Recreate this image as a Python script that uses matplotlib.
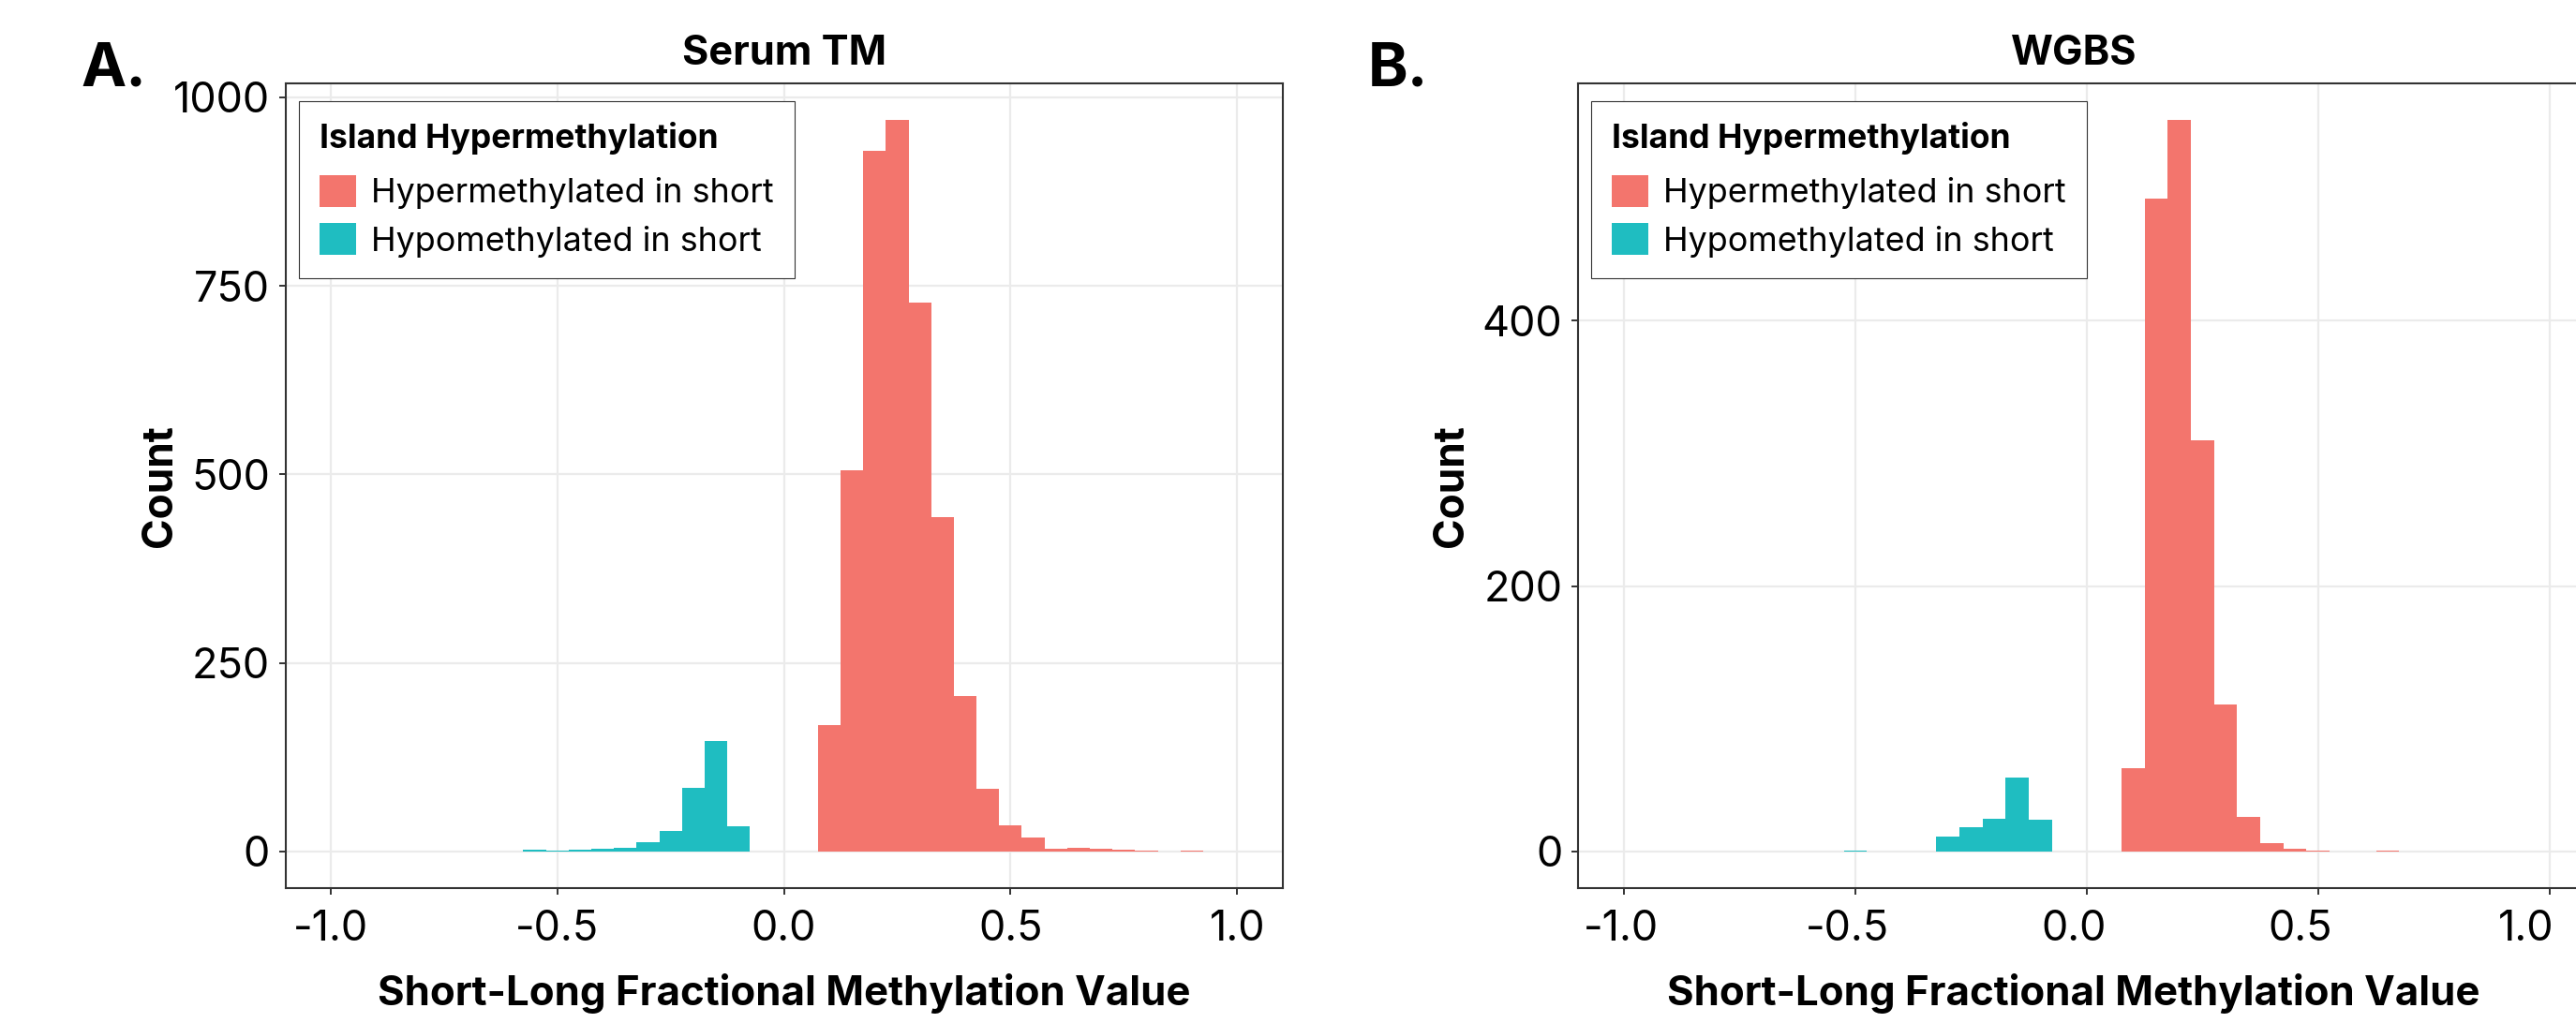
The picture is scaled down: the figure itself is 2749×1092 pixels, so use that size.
import matplotlib
matplotlib.use("Agg")
import matplotlib.pyplot as plt
from matplotlib.patches import Patch
from matplotlib.ticker import FormatStrFormatter

plt.rcParams['font.family'] = ['Inter', 'DejaVu Sans']
plt.rcParams['axes.unicode_minus'] = False

binwidth = 0.05

serum_hypo_x = [-0.55, -0.50, -0.45, -0.40, -0.35, -0.30, -0.25, -0.20, -0.15, -0.10]
serum_hypo_n = [2, 1, 2, 4, 5, 12, 27, 84, 146, 33]
serum_hyper_x = [0.10, 0.15, 0.20, 0.25, 0.30, 0.35, 0.40, 0.45, 0.50,
                 0.55, 0.60, 0.65, 0.70, 0.75, 0.80, 0.85, 0.90]
serum_hyper_n = [168, 506, 929, 970, 728, 443, 206, 83, 35,
                 19, 4, 5, 4, 2, 1, 0, 1]

wgbs_hypo_x = [-0.50, -0.30, -0.25, -0.20, -0.15, -0.10]
wgbs_hypo_n = [1, 11, 18, 25, 56, 24]
wgbs_hyper_x = [0.10, 0.15, 0.20, 0.25, 0.30, 0.35, 0.40, 0.45, 0.50, 0.65]
wgbs_hyper_n = [63, 492, 551, 310, 111, 26, 6, 2, 1, 1]

xticks = [-1.0, -0.5, 0.0, 0.5, 1.0]
serum_yticks = [0, 250, 500, 750, 1000]
wgbs_yticks = [0, 200, 400]

hyper_col = "#F3756D"
hypo_col = "#1FBDC1"
dark = "#333333"
grid_col = "#EBEBEB"

W, H = 2749, 1092
fig = plt.figure(figsize=(W / 100, H / 100), dpi=100)


def panel(rect, hypo_x, hypo_n, hyper_x, hyper_n, yticks, title, text_x):
    ax = fig.add_axes(rect)
    ax.bar(hypo_x, hypo_n, width=binwidth, color=hypo_col, linewidth=0, zorder=3)
    ax.bar(hyper_x, hyper_n, width=binwidth, color=hyper_col, linewidth=0, zorder=3)

    top = max(max(hypo_n), max(hyper_n))
    ax.set_xlim(-1.1, 1.1)
    ax.set_ylim(-0.05 * top, 1.05 * top)
    ax.set_xticks(xticks)
    ax.set_yticks(yticks)
    ax.xaxis.set_major_formatter(FormatStrFormatter('%.1f'))
    ax.grid(True, color=grid_col, linewidth=1.6, zorder=0)
    ax.set_axisbelow(True)
    for s in ax.spines.values():
        s.set_color(dark)
        s.set_linewidth(1.5)
    ax.tick_params(length=4.8, width=1.4, color=dark, labelsize=32.4, labelcolor='black')
    ax.tick_params(axis='y', pad=7)
    ax.tick_params(axis='x', pad=12)

    ax.set_title(title, fontsize=31.2, fontweight='bold', pad=14.7, x=text_x)
    ax.set_xlabel("Short-Long Fractional Methylation Value", fontsize=31.5, fontweight='bold')
    ax.set_ylabel("Count", fontsize=31.8, fontweight='bold')

    handles = [Patch(facecolor=hyper_col, label="Hypermethylated in short"),
               Patch(facecolor=hypo_col, label="Hypomethylated in short")]
    leg = ax.legend(handles=handles, title="Island Hypermethylation",
                    loc='upper left', bbox_to_anchor=(14 / (rect[2] * W), 1 - 18.5 / (rect[3] * H)),
                    borderaxespad=0, frameon=True, fancybox=False, framealpha=1,
                    edgecolor=dark, fontsize=25.8, title_fontsize=25.5,
                    handlelength=1.09, handleheight=1.09, handletextpad=0.45,
                    labelspacing=0.42, borderpad=0.62, alignment='left')
    leg.get_title().set_fontweight('bold')
    leg.get_frame().set_linewidth(0.8)
    # a bit more room between the legend title and its keys
    leg._legend_box.sep = 16
    return ax


axA = panel([304.5 / W, (H - 948) / H, 1064 / W, 859 / H],
            serum_hypo_x, serum_hypo_n, serum_hyper_x, serum_hyper_n,
            serum_yticks, "Serum TM", 0.5)
axA.xaxis.label.set_va('baseline')
axA.xaxis.set_label_coords(0.5, (948 - 1073) / 859)
axA.yaxis.label.set_va('baseline')
axA.yaxis.set_label_coords((183 - 304.5) / 1064, 0.5)

axB = panel([1683.6 / W, (H - 948) / H, 1086.5 / W, 859 / H],
            wgbs_hypo_x, wgbs_hypo_n, wgbs_hyper_x, wgbs_hyper_n,
            wgbs_yticks, "WGBS", 0.4873)
axB.xaxis.label.set_va('baseline')
axB.xaxis.set_label_coords(0.4873, (948 - 1073) / 859)
axB.yaxis.label.set_va('baseline')
axB.yaxis.set_label_coords((1561 - 1683.6) / 1086.5, 0.5)

# the tick labels of panel B sit on a slightly narrower scale than its grid
axB.tick_params(axis='x', labelbottom=False)
sec = axB.secondary_xaxis('bottom', functions=(lambda x: (x + 0.028) / 0.978,
                                               lambda v: 0.978 * v - 0.028))
sec.set_xticks(xticks)
sec.xaxis.set_major_formatter(FormatStrFormatter('%.1f'))
sec.tick_params(length=0, pad=12 + 4.8, labelsize=32.4)
sec.spines['bottom'].set_visible(False)

fig.text(86.7 / W, 1 - 91.7 / H, "A.", fontsize=46.5, fontweight='bold', ha='left', va='baseline')
fig.text(1460 / W, 1 - 91.7 / H, "B.", fontsize=46.5, fontweight='bold', ha='left', va='baseline')

fig.savefig("out.png", dpi=100)
